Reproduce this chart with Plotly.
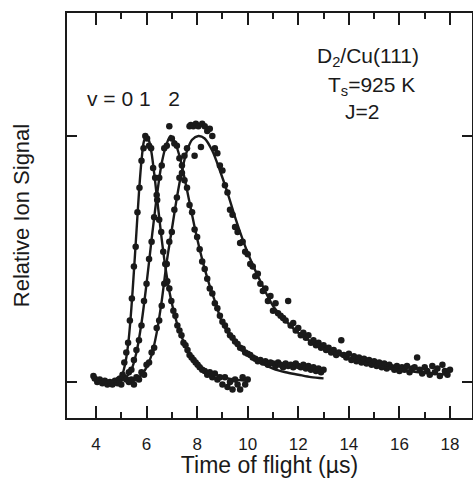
import plotly.graph_objects as go

# ---- fitted curves (time of flight in microseconds, relative signal) ----
fit0_t = [3.9, 4.2, 4.5, 4.8, 5.0, 5.1, 5.2, 5.3, 5.4, 5.5, 5.6, 5.7, 5.8, 5.9, 6.0, 6.1, 6.2, 6.3, 6.4, 6.5,
          6.6, 6.7, 6.8, 6.9, 7.0, 7.2, 7.4, 7.6, 7.8, 8.0, 8.3, 8.6, 9.0, 9.5, 10.0]
fit0_y = [0.01, 0.0, 0.0, 0.005, 0.02, 0.05, 0.1, 0.18, 0.3, 0.45, 0.61, 0.77, 0.9, 0.98, 1.0, 0.98, 0.93, 0.85,
          0.76, 0.67, 0.58, 0.5, 0.43, 0.37, 0.32, 0.24, 0.18, 0.14, 0.1, 0.08, 0.05, 0.035, 0.02, 0.01, 0.005]

fit1_t = [4.8, 5.0, 5.2, 5.4, 5.6, 5.8, 6.0, 6.2, 6.4, 6.6, 6.8, 6.95, 7.1, 7.3, 7.5, 7.7, 7.9, 8.1, 8.3, 8.5,
          8.7, 9.0, 9.3, 9.6, 10.0, 10.5, 11.0, 11.5, 12.0, 12.5, 13.0]
fit1_y = [0.0, 0.005, 0.02, 0.05, 0.12, 0.24, 0.4, 0.58, 0.75, 0.89, 0.97, 1.0, 0.98, 0.92, 0.83, 0.73, 0.63,
          0.54, 0.46, 0.39, 0.33, 0.24, 0.19, 0.15, 0.11, 0.08, 0.055, 0.04, 0.03, 0.02, 0.015]

fit2_t = [5.2, 5.5, 5.8, 6.0, 6.2, 6.4, 6.6, 6.8, 7.0, 7.2, 7.4, 7.6, 7.8, 8.05, 8.3, 8.6, 8.9, 9.2, 9.5, 9.8,
          10.1, 10.5, 11.0, 11.5, 12.0, 12.5, 13.0, 13.5, 14.0, 15.0, 16.0, 17.0, 18.0]
fit2_y = [0.0, 0.005, 0.03, 0.06, 0.11, 0.2, 0.33, 0.49, 0.62, 0.75, 0.86, 0.94, 0.985, 1.0, 0.99, 0.94, 0.86,
          0.77, 0.67, 0.58, 0.5, 0.41, 0.31, 0.25, 0.2, 0.165, 0.135, 0.115, 0.095, 0.068, 0.05, 0.037, 0.03]

# ---- measured points ----
dot0_t = [3.9, 3.95, 4.05, 4.15, 4.25, 4.35, 4.45, 4.55, 4.65, 4.75, 4.85, 4.95, 5.05, 5.12, 5.2, 5.27, 5.34,
          5.42, 5.5, 5.57, 5.64, 5.72, 5.8, 5.88, 5.95, 6.02, 6.1, 6.18, 6.26, 6.34, 6.42, 6.5, 6.58, 6.66, 6.74,
          6.82, 6.9, 6.98, 7.06, 7.14, 7.22, 7.3, 7.38, 7.46, 7.54, 7.62, 7.7, 7.78, 7.86, 7.94, 8.02, 8.1, 8.2,
          8.3, 8.4, 8.5, 8.6, 8.7, 8.8, 8.9, 9.0, 9.1, 9.2, 9.3, 9.4, 9.5, 9.6, 9.7, 9.8, 9.9, 10.0]
dot0_y = [0.025, 0.015, 0.0, 0.01, -0.005, 0.005, -0.01, 0.0, -0.01, 0.005, -0.005, 0.015, 0.03, 0.08, 0.12,
          0.16, 0.25, 0.34, 0.47, 0.55, 0.69, 0.79, 0.9, 0.95, 1.0, 0.99, 0.96, 0.95, 0.87, 0.83, 0.74, 0.66, 0.61,
          0.53, 0.48, 0.41, 0.38, 0.33, 0.29, 0.27, 0.23, 0.21, 0.19, 0.16, 0.15, 0.13, 0.11, 0.1, 0.09, 0.08,
          0.07, 0.06, 0.05, 0.045, 0.03, 0.04, 0.02, 0.035, 0.01, 0.02, -0.01, 0.02, -0.02, 0.0, -0.03, 0.01,
          -0.01, -0.03, 0.02, -0.01, 0.01]

dot1_t = [4.9, 5.0, 5.1, 5.2, 5.3, 5.4, 5.5, 5.6, 5.7, 5.8, 5.9, 6.0, 6.1, 6.2, 6.3, 6.4, 6.5, 6.6, 6.7, 6.8,
          6.9, 7.0, 7.1, 7.2, 7.3, 7.4, 7.5, 7.6, 7.7, 7.8, 7.9, 8.0, 8.1, 8.2, 8.3, 8.4, 8.5, 8.6, 8.7, 8.8,
          8.9, 9.0, 9.1, 9.2, 9.3, 9.4, 9.5, 9.6, 9.7, 9.8, 9.9, 10.0, 10.1, 10.2, 10.3, 10.4, 10.5, 10.6, 10.7,
          10.8, 10.9, 11.0, 11.1, 11.2, 11.3, 11.4, 11.5, 11.6, 11.7, 11.8, 11.9, 12.0, 12.1, 12.2, 12.3, 12.4,
          12.5, 12.6, 12.7, 12.8, 12.9, 13.0]
dot1_y = [0.01, -0.01, 0.02, 0.01, 0.04, 0.05, 0.09, 0.13, 0.17, 0.23, 0.33, 0.4, 0.5, 0.57, 0.67, 0.76, 0.83,
          0.88, 0.95, 0.96, 1.04, 0.99, 0.97, 0.96, 0.91, 0.88, 0.82, 0.79, 0.72, 0.69, 0.62, 0.59, 0.54, 0.49,
          0.46, 0.42, 0.38, 0.36, 0.32, 0.3, 0.27, 0.245, 0.23, 0.21, 0.19, 0.18, 0.165, 0.155, 0.14, 0.135,
          0.12, 0.115, 0.11, 0.1, 0.095, 0.085, 0.09, 0.08, 0.085, 0.07, 0.08, 0.075, 0.065, 0.08, 0.07, 0.06,
          0.075, 0.065, 0.07, 0.06, 0.075, 0.065, 0.06, 0.07, 0.055, 0.065, 0.05, 0.06, 0.045, 0.055, 0.04, 0.05]

dot2_t = [5.3, 5.4, 5.5, 5.6, 5.7, 5.8, 5.9, 6.0, 6.1, 6.2, 6.3, 6.4, 6.5, 6.6, 6.7, 6.8, 6.9, 7.0, 7.1, 7.2,
          7.3, 7.4, 7.5, 7.6, 7.7, 7.75, 7.85, 7.9, 7.95, 8.05, 8.15, 8.2, 8.3, 8.4, 8.5, 8.6, 8.7, 8.8, 8.9,
          9.0, 9.1, 9.2, 9.3, 9.4, 9.5, 9.6, 9.7, 9.8, 9.9, 10.0, 10.1, 10.2, 10.3, 10.4, 10.5, 10.6, 10.7, 10.8,
          10.9, 11.0, 11.1, 11.2, 11.3, 11.4, 11.5, 11.6, 11.7, 11.8, 11.9, 12.0, 12.1, 12.2, 12.3, 12.4, 12.5,
          12.6, 12.7, 12.8, 12.9, 13.0, 13.1, 13.2, 13.3, 13.4, 13.5, 13.6, 13.7, 13.8, 13.9, 14.0, 14.1, 14.2,
          14.3, 14.4, 14.5, 14.6, 14.7, 14.8, 14.9, 15.0, 15.1, 15.2, 15.3, 15.4, 15.5, 15.6, 15.7, 15.8, 15.9,
          16.0, 16.1, 16.2, 16.3, 16.4, 16.5, 16.6, 16.7, 16.8, 16.9, 17.0, 17.1, 17.2, 17.3, 17.4, 17.5, 17.6,
          17.7, 17.8, 17.9, 18.0]
dot2_y = [0.0, 0.01, -0.01, 0.02, 0.01, 0.04, 0.03, 0.07, 0.08, 0.12, 0.14, 0.22, 0.25, 0.31, 0.4, 0.48, 0.57,
          0.61, 0.7, 0.75, 0.83, 0.85, 0.92, 0.95, 1.04, 1.045, 1.04, 0.92, 1.05, 1.04, 0.955, 1.05, 1.04, 1.02,
          1.03, 1.0, 0.95, 0.93, 0.88, 0.86, 0.8, 0.77, 0.7, 0.68, 0.63, 0.61, 0.565, 0.57, 0.53, 0.52, 0.48,
          0.47, 0.43, 0.44, 0.4, 0.37, 0.38, 0.33, 0.35, 0.29, 0.32, 0.28, 0.27, 0.26, 0.25, 0.33, 0.23, 0.24,
          0.21, 0.22, 0.19, 0.2, 0.18, 0.19, 0.16, 0.17, 0.15, 0.16, 0.14, 0.15, 0.13, 0.14, 0.12, 0.13, 0.11,
          0.12, 0.17, 0.11, 0.1, 0.115, 0.09, 0.105, 0.085, 0.1, 0.08, 0.095, 0.075, 0.09, 0.07, 0.085, 0.065,
          0.08, 0.06, 0.075, 0.055, 0.07, 0.06, 0.05, 0.065, 0.045, 0.06, 0.05, 0.065, 0.04, 0.055, 0.06, 0.1,
          0.05, 0.035, 0.06, 0.045, 0.03, 0.065, 0.04, 0.055, 0.025, 0.07, 0.045, 0.03, 0.05]

x_ticks = [4, 6, 8, 10, 12, 14, 16, 18]
x_minor = [5, 7, 9, 11, 13, 15, 17]
y_ticks = [0, 1]

INK = "#1a1a1a"
FONT = "Liberation Sans, Arial, Helvetica, sans-serif"

fig = go.Figure()
for t, y in [(dot0_t, dot0_y), (dot1_t, dot1_y), (dot2_t, dot2_y)]:
    fig.add_trace(go.Scatter(x=t, y=y, mode="markers",
                             marker=dict(size=6.5, color=INK, line=dict(width=0)),
                             showlegend=False, hoverinfo="skip"))
for t, y in [(fit0_t, fit0_y), (fit1_t, fit1_y), (fit2_t, fit2_y)]:
    fig.add_trace(go.Scatter(x=t, y=y, mode="lines",
                             line=dict(color=INK, width=2.4, shape="spline", smoothing=0.8),
                             showlegend=False, hoverinfo="skip"))

fig.update_layout(
    width=473, height=478,
    margin=dict(l=67, r=1, t=13, b=60),
    paper_bgcolor="white", plot_bgcolor="white",
    font=dict(family=FONT, color=INK),
    xaxis=dict(range=[2.854, 18.87], tickvals=x_ticks, ticktext=[str(v) for v in x_ticks],
               ticks="inside", ticklen=12, tickwidth=1.5, tickcolor=INK,
               minor=dict(tickvals=x_minor, ticks="inside", ticklen=6, tickwidth=1.5, tickcolor=INK),
               showline=True, linewidth=2.2, linecolor=INK, mirror="ticks",
               showgrid=False, zeroline=False, automargin=False,
               ticklabelstandoff=9,
               tickfont=dict(size=17, family=FONT, color=INK),
               title=dict(text="Time of flight (µs)", font=dict(size=23, family=FONT, color=INK), standoff=2)),
    yaxis=dict(range=[-0.146, 1.5], tickvals=y_ticks, showticklabels=False,
               ticks="inside", ticklen=10, tickwidth=1.5, tickcolor=INK,
               showline=True, linewidth=2.2, linecolor=INK, mirror="ticks",
               showgrid=False, zeroline=False, automargin=False,
               title=dict(text="Relative Ion Signal", font=dict(size=22, family=FONT, color=INK), standoff=29)),
    annotations=[
        dict(x=14.75, y=1.32, xref="x", yref="y", text="D<sub>2</sub>/Cu(111)", showarrow=False,
             font=dict(size=21, family=FONT, color=INK)),
        dict(x=14.91, y=1.205, xref="x", yref="y", text="T<sub>s</sub>=925 K", showarrow=False,
             font=dict(size=21, family=FONT, color=INK)),
        dict(x=14.51, y=1.10, xref="x", yref="y", text="J=2", showarrow=False,
             font=dict(size=21, family=FONT, color=INK)),
        dict(x=5.48, y=1.152, xref="x", yref="y", text="v = 0&nbsp;1&nbsp;&nbsp;&nbsp;2", showarrow=False,
             font=dict(size=21, family=FONT, color=INK)),
    ],
)

fig.write_html("out.html", config={"displayModeBar": False},
               post_script="document.body.style.margin='0';")
